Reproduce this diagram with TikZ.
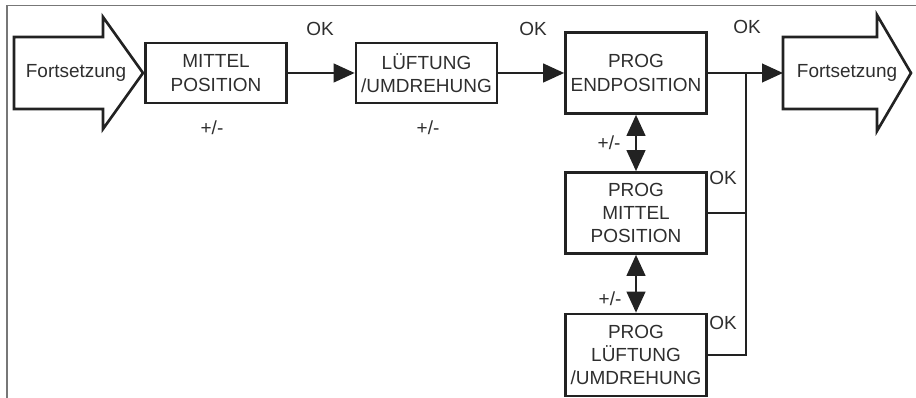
\documentclass[tikz,border=0pt]{standalone}
\usepackage{fontspec}
\setmainfont{Liberation Sans}
\usetikzlibrary{arrows, arrows.meta}
\definecolor{ink}{HTML}{222222}
\definecolor{txtgray}{HTML}{2E2E2E}
\definecolor{framegray}{HTML}{777777}

\begin{document}
\begin{tikzpicture}[x=0.02cm, y=-0.02cm,
  box/.style={draw=ink, line width=1.5pt, minimum width=2.82cm, align=center, inner sep=0pt,
    text=txtgray, font=\fontsize{10.8}{13.2}\selectfont},
  lbl/.style={text=txtgray, font=\fontsize{10.8}{13.2}\selectfont, inner sep=1pt},
  flow/.style={draw=ink, line width=1.5pt, -{Triangle[length=0.42cm, width=0.37cm]}},
  dflow/.style={draw=ink, line width=1.5pt, {Triangle[length=0.42cm, width=0.37cm]}-{Triangle[length=0.42cm, width=0.37cm]}},
  bigarrow/.style={draw=ink, line width=1.5pt, line join=miter}]
\useasboundingbox (0,0) rectangle (916,398);
\draw[framegray, line width=1pt] (916,5.5) -- (7,5.5) -- (7,398);

% entry and exit arrows
\draw[bigarrow] (14,37) -- (103,37) -- (103,17) -- (143,73) -- (103,129) -- (103,109) -- (14,109) -- cycle;
\node[lbl] (fin) at (76,73) {Fortsetzung};
\draw[bigarrow] (783,37) -- (877,37) -- (877,15) -- (911,73) -- (877,131) -- (877,109) -- (783,109) -- cycle;
\node[lbl] (fout) at (847,73) {Fortsetzung};
\coordinate (fouttail) at (783,73);

% steps
\node[box, minimum height=1.2cm] (mp) at (216,73) {MITTEL\\POSITION};
\node[box, minimum height=1.2cm] (lu) at (426.5,73) {LÜFTUNG\\/UMDREHUNG};
\node[box, minimum height=1.62cm] (pe) at (636,73) {PROG\\ENDPOSITION};
\node[box, minimum height=1.62cm] (pm) at (636,213) {PROG\\MITTEL\\POSITION};
\node[box, minimum height=1.64cm] (pl) at (636,355) {PROG\\LÜFTUNG\\/UMDREHUNG};
\coordinate (bus) at (746,73);

\draw[flow] (mp.east) -- (lu.west);
\draw[flow] (lu.east) -- (pe.west);
\draw[flow] (pe.east) -- (fouttail);
\draw[draw=ink, line width=1.5pt] (pl.east) -| (bus);
\draw[draw=ink, line width=1.5pt] (pm.east) -- (pm.east -| bus);
\draw[dflow] (pe.south) -- (pm.north);
\draw[dflow] (pm.south) -- (pl.north);

% labels
\node[lbl] (ok1) at (320,29) {OK};
\node[lbl] (ok2) at (533,29) {OK};
\node[lbl] (ok3) at (747,27) {OK};
\node[lbl] (ok4) at (723,178) {OK};
\node[lbl] (ok5) at (723,323) {OK};
\node[lbl] (pm1) at (212,128) {+/-};
\node[lbl] (pm2) at (428,128) {+/-};
\node[lbl] (pm3) at (609,143) {+/-};
\node[lbl] (pm4) at (610,299) {+/-};
\end{tikzpicture}
\end{document}
